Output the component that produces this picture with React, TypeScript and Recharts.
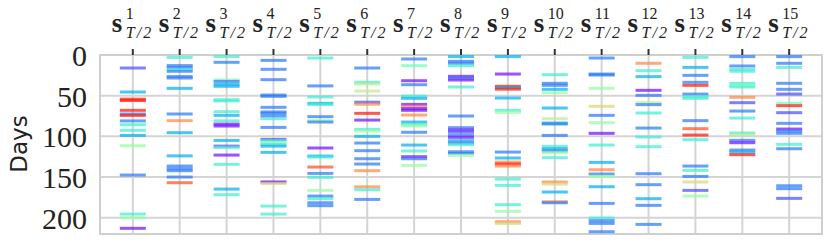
import {
  CartesianGrid,
  ReferenceArea,
  Scatter,
  ScatterChart,
  XAxis,
  YAxis,
} from "recharts";

// colour codes on the rainbow map
const P = 0.02, I = 0.1, B = 0.16, L = 0.24, C = 0.38, T = 0.47, G = 0.55, V = 0.62, Y = 0.68, O = 0.82, R = 0.97;

const col1 = [[16, I], [45.5, L], [54.3, R], [56, R], [68, R], [72.5, B], [74.2, R], [81, B], [85.7, C], [92.6, C], [98.8, L], [111.5, G], [147.5, B], [195.5, C], [200, G], [213, P]];
const col2 = [[3, C], [13, B], [15.5, B], [18, C], [20, B], [26.5, B], [28.3, B], [41, L], [72.5, B], [80.7, O], [95.5, L], [124, L], [136.5, B], [139.8, B], [142.2, B], [150, B], [157, 0.9]];
const col3 = [[2, C], [9, B], [30.7, G], [32.4, B], [36, L], [38.5, L], [55, C], [56.5, C], [69.7, C], [74.2, L], [81, C], [85, P], [87.3, P], [105, L], [112, I], [113.5, C], [123, P], [134.4, C], [164.8, L], [171.7, C]];
const col4 = [[6.6, B], [17.6, B], [30.3, B], [49.2, B], [50.8, B], [64.3, B], [70, B], [71.7, B], [75, B], [78.3, C], [89, B], [103.7, I], [105.5, C], [107.5, G], [110, C], [112, L], [119.7, L], [156, P], [158, Y], [185.7, C], [195.5, C]];
const col5 = [[3.7, C], [38, B], [51.6, C], [59.4, L], [61, C], [75.8, B], [80.7, G], [82.4, B], [114.3, P], [124.2, L], [125.4, C], [137.7, 0.9], [145.5, B], [150.4, C], [166.4, G], [173.4, B], [176.6, C], [181.6, B], [185.2, B]];
const col6 = [[16, B], [33.6, C], [35.7, V], [44.3, V], [58, I], [60.5, O], [71.7, R], [80, P], [91.4, C], [93.4, G], [100, L], [108.2, B], [117.6, B], [127.5, B], [134, B], [142.2, O], [162, O], [165.6, C], [177.5, B]];
const col7 = [[4.9, B], [13.1, T], [31.6, P], [36.5, B], [50.4, C], [53.3, L], [60.7, P], [63.5, O], [66, P], [68, P], [73.8, O], [82.4, L], [85.7, C], [87.3, G], [95, B], [110.7, L], [118, C], [125, P], [127.5, B], [135.7, G]];
const col8 = [[2, L], [7.8, B], [10.2, B], [13.1, C], [26.2, P], [28.3, B], [30.7, P], [39.3, C], [75, B], [89.3, B], [92.2, P], [94.7, I], [98.4, B], [101.2, P], [105.3, L], [108.2, B], [110.2, C], [118.9, B], [121, B], [123.4, G]];
const col9 = [[2, L], [23.4, P], [38.5, R], [40, L], [42, R], [52.9, L], [68, C], [70.5, G], [119.3, B], [126.6, L], [131.6, O], [134, R], [136.5, O], [152.5, C], [160.2, C], [184, C], [192.2, G], [205, O], [207, Y]];
const col10 = [[24.2, C], [34.8, B], [37.3, B], [42.2, L], [46.3, G], [65.2, L], [78.3, V], [83.6, L], [84.8, B], [98.8, B], [112.3, C], [115.2, L], [118, B], [120, G], [126.2, C], [156.1, O], [158.6, Y], [168.4, L], [180.3, O], [181.6, B]];
const col11 = [[3.7, B], [23.4, B], [24.6, B], [41, G], [63.1, Y], [74.2, B], [83.2, G], [96.3, P], [110.7, C], [132, L], [141, O], [146.3, B], [149.2, G], [161.9, L], [182.4, B], [200.4, C], [203.7, B], [207, B], [217.2, B]];
const col12 = [[10.2, O], [19.3, C], [26.6, L], [43.4, P], [49.6, B], [58.6, V], [61, B], [71.3, C], [89.8, B], [100.8, C], [112.7, C], [145.9, B], [159.4, B], [176.6, L], [184.8, B], [208.2, B]];
const col13 = [[2.9, C], [15.2, L], [25, B], [33.6, B], [37.3, R], [48, B], [51.2, C], [53.3, C], [80.7, B], [90.6, 0.9], [98.4, R], [104.1, C], [136.5, B], [141.8, C], [149.2, B], [156.1, Y], [166.4, I], [173.4, G]];
const col14 = [[2, B], [13.5, B], [17.6, C], [20, C], [34.8, C], [37.3, T], [39.3, C], [52, O], [58.6, I], [68.9, B], [77.5, C], [95.9, C], [98, V], [104.9, B], [107.8, P], [116.8, B], [119.3, L], [122.5, R]];
const col15 = [[2, B], [10.2, B], [15.2, C], [34.8, B], [42.2, B], [48, I], [59.4, T], [62.3, R], [70.9, I], [84, B], [91, P], [93.4, B], [96.3, B], [109.8, C], [115.2, B], [160.7, B], [164.3, B], [176.2, I]];

const columns = [col1, col2, col3, col4, col5, col6, col7, col8, col9, col10, col11, col12, col13, col14, col15];
const xTicks = [1, 2, 3, 4, 5, 6, 7, 8, 9, 10, 11, 12, 13, 14, 15];
const yTicks = [0, 50, 100, 150, 200];

const points = columns.flatMap((col, i) => col.map(([y, c]) => ({ x: i + 1, y, c })));

// matplotlib "rainbow"
function rainbow(v: number) {
  const r = Math.min(1, Math.abs(2 * v - 0.5));
  const g = Math.sin(Math.PI * v);
  const b = Math.cos((Math.PI * v) / 2);
  const h = (n: number) => Math.round(Math.max(0, n) * 255);
  return `rgb(${h(r)},${h(g)},${h(b)})`;
}

const serif = "Liberation Serif, Times New Roman, DejaVu Serif, serif";

function Dash(props: any) {
  const { cx, cy, payload } = props;
  return (
    <line x1={cx - 13} x2={cx + 13} y1={cy} y2={cy} stroke={rainbow(payload.c)} strokeWidth={3} strokeOpacity={0.72} />
  );
}

function TopTick({ x, payload }: any) {
  return (
    <g fill="#222">
      <text x={x - 21} y={32} style={{ fontFamily: serif, fontSize: 27, fontWeight: 700 }}>s</text>
      <text x={x - 7} y={19} style={{ fontFamily: serif, fontSize: 16 }}>{payload.value}</text>
      <text x={x - 7} y={38} style={{ fontFamily: serif, fontSize: 16, fontStyle: "italic", letterSpacing: 2 }}>T/2</text>
    </g>
  );
}

function LeftTick({ y, payload }: any) {
  return (
    <text x={87} y={y + 11} textAnchor="end" fill="#222" style={{ fontFamily: serif, fontSize: 30 }}>
      {payload.value}
    </text>
  );
}

export default function App() {
  return (
    <div style={{ position: "absolute", left: 0, top: 0, background: "#fff" }}>
      <ScatterChart width={831} height={245} margin={{ top: 0, right: 9, bottom: 11, left: 0 }}>
        <CartesianGrid stroke="#d4d4d4" strokeWidth={2} />
        <ReferenceArea x1={0.3} x2={15.7} y1={0} y2={220} fill="none" stroke="#cfcfcf" strokeWidth={2} ifOverflow="visible" />
        <XAxis
          type="number"
          dataKey="x"
          orientation="top"
          domain={[0.3, 15.7]}
          ticks={xTicks}
          height={55}
          axisLine={false}
          tickSize={6}
          tickLine={{ stroke: "#333", strokeWidth: 2 }}
          tick={<TopTick />}
          interval={0}
        />
        <YAxis
          type="number"
          dataKey="y"
          reversed
          domain={[0, 220]}
          ticks={yTicks}
          width={100}
          axisLine={false}
          tickLine={false}
          tick={<LeftTick />}
          interval={0}
          label={{
            content: () => (
              <text transform="translate(27,144) rotate(-90)" textAnchor="middle" fill="#222" style={{ fontFamily: "DejaVu Sans, sans-serif", fontSize: 23 }}>
                Days
              </text>
            ),
          }}
        />
        <Scatter data={points} shape={<Dash />} isAnimationActive={false} />
      </ScatterChart>
    </div>
  );
}
